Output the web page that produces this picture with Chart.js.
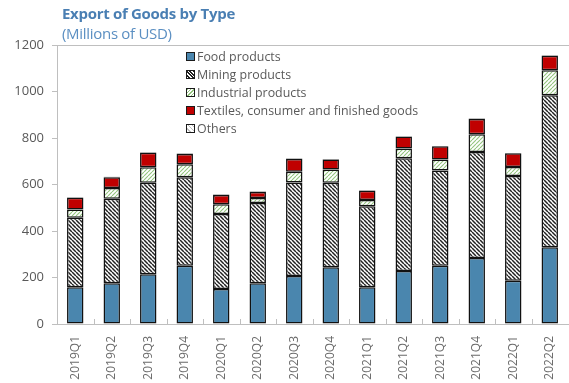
<!DOCTYPE html>
<html>
<head>
<meta charset="utf-8">
<script src="https://cdn.jsdelivr.net/npm/chart.js@4.4.1/dist/chart.umd.min.js"></script>
<style>
  html, body { margin:0; padding:0; background:#fff; }
  #wrap { position:relative; width:569px; height:383px; font-family:"Open Sans", sans-serif; }
  #c { position:absolute; left:0; top:0; }
  #title { position:absolute; left:62px; top:3px; font-size:15px; font-weight:bold; color:#4a7fb3; letter-spacing:-0.3px; white-space:nowrap; }
  #subtitle { position:absolute; left:62px; top:23px; font-size:15px; color:#5b8fc2; letter-spacing:-0.3px; white-space:nowrap; }
  #legend { position:absolute; left:186px; top:48px; font-size:12.4px; color:#595959; }
  .row { height:18px; line-height:18px; white-space:nowrap; position:relative; padding-left:11px; }
  .sw { position:absolute; left:0; top:4px; width:7px; height:7px; border:1.5px solid #1a1a1a; }
</style>
</head>
<body>
<div id="wrap">
  <canvas id="c" width="569" height="383"></canvas>
  <div id="title">Export of Goods by Type</div>
  <div id="subtitle">(Millions of USD)</div>
  <div id="legend"></div>
</div>
<script>
const categories = ["2019Q1","2019Q2","2019Q3","2019Q4","2020Q1","2020Q2","2020Q3","2020Q4","2021Q1","2021Q2","2021Q3","2021Q4","2022Q1","2022Q2"];
const foodProducts     = [158, 175, 214, 251, 151, 175, 206, 244, 158, 228, 251, 284, 186, 330];
const miningProducts   = [299, 364, 394, 380, 322, 345, 403, 364, 348, 485, 409, 456, 451, 654];
const industrialProducts = [36, 46, 66, 56, 42, 22, 46, 57, 27, 42, 47, 76, 38, 107];
const textilesGoods    = [50, 46, 63, 44, 40, 26, 55, 43, 40, 51, 57, 66, 59, 63];
const others           = [2, 2, 2, 2, 2, 2, 2, 2, 2, 2, 2, 2, 2, 2];
const seriesNames = ["Food products","Mining products","Industrial products","Textiles, consumer and finished goods","Others"];
const yTicks = [0, 200, 400, 600, 800, 1000, 1200];

function hatch(bg, line, s, lw, dir) {
  const cv = document.createElement('canvas');
  cv.width = s; cv.height = s;
  const g = cv.getContext('2d');
  g.fillStyle = bg; g.fillRect(0,0,s,s);
  g.strokeStyle = line; g.lineWidth = lw;
  g.beginPath();
  for (let k=-1;k<=1;k++){
    if (dir === '\\') { g.moveTo(k*s,0); g.lineTo(k*s+s,s); }
    else { g.moveTo(k*s,s); g.lineTo(k*s+s,0); }
  }
  g.stroke();
  return g.createPattern(cv,'repeat');
}
const ctx = document.getElementById('c').getContext('2d');
const fills = [
  '#4a86ae',
  hatch('#ffffff', '#222222', 4, 1.5, '\\'),
  hatch('#ffffff', '#93c47d', 4, 1.1, '/'),
  '#c00000',
  hatch('#ffffff', '#bfbfbf', 4, 0.8, '\\')
];
const cssFills = [
  '#4a86ae',
  'repeating-linear-gradient(45deg,#fff 0 1.2px,#222 1.2px 2.5px)',
  'repeating-linear-gradient(-45deg,#fff 0 1.5px,#93c47d 1.5px 2.5px)',
  '#c00000',
  'repeating-linear-gradient(45deg,#fff 0 2px,#bfbfbf 2px 3px)'
];
const seriesData = [foodProducts, miningProducts, industrialProducts, textilesGoods, others];

const legend = document.getElementById('legend');
seriesNames.forEach((n,i)=>{
  const r = document.createElement('div'); r.className='row';
  const s = document.createElement('span'); s.className='sw'; s.style.background = cssFills[i];
  r.appendChild(s); r.appendChild(document.createTextNode(n));
  legend.appendChild(r);
});

const innerTicks = {
  id:'innerTicks',
  afterDraw(chart){
    const x = chart.scales.x, a = chart.chartArea, c = chart.ctx;
    c.save(); c.strokeStyle = '#bfbfbf'; c.lineWidth = 1;
    c.beginPath();
    for (let i=1;i<categories.length;i++){
      const px = Math.round((x.getPixelForValue(i-1)+x.getPixelForValue(i))/2)+0.5;
      c.moveTo(px, a.bottom); c.lineTo(px, a.bottom-5);
    }
    c.stroke(); c.restore();
  }
};

new Chart(ctx, {
  type:'bar',
  data:{
    labels: categories,
    datasets: seriesNames.map((n,i)=>({
      label:n, data:seriesData[i], backgroundColor:fills[i],
      borderColor:'#111111', borderWidth:1.5, borderSkipped:false,
      categoryPercentage:1.0, barPercentage:0.45
    }))
  },
  options:{
    responsive:false, animation:false,
    layout:{ padding:{ top:45, right:1, left:0, bottom:0 } },
    plugins:{ legend:{display:false}, tooltip:{enabled:false}, title:{display:false} },
    scales:{
      x:{
        stacked:true,
        grid:{ display:false },
        border:{ display:true, color:'#bfbfbf', width:1 },
        ticks:{ color:'#6b6b6b', font:{family:'Open Sans', size:12}, minRotation:90, maxRotation:90, padding:4 },
        afterFit(s){ s.height = 59; }
      },
      xTop:{
        position:'top', type:'category', labels:categories,
        grid:{ display:false }, ticks:{ display:false },
        border:{ display:true, color:'#bfbfbf', width:1 },
        afterFit(s){ s.height = 0; }
      },
      y:{
        stacked:true, min:0, max:1200,
        afterBuildTicks(s){ s.ticks = yTicks.map(v=>({value:v})); },
        grid:{ display:true, drawOnChartArea:false, drawTicks:true, tickLength:5, color:'#bfbfbf' },
        border:{ display:true, color:'#bfbfbf', width:1 },
        ticks:{ color:'#595959', font:{family:'Open Sans', size:13}, padding:8, callback:(v)=>String(v) },
        afterFit(s){ s.width = 57; }
      }
    }
  },
  plugins:[innerTicks]
});
</script>
</body>
</html>
